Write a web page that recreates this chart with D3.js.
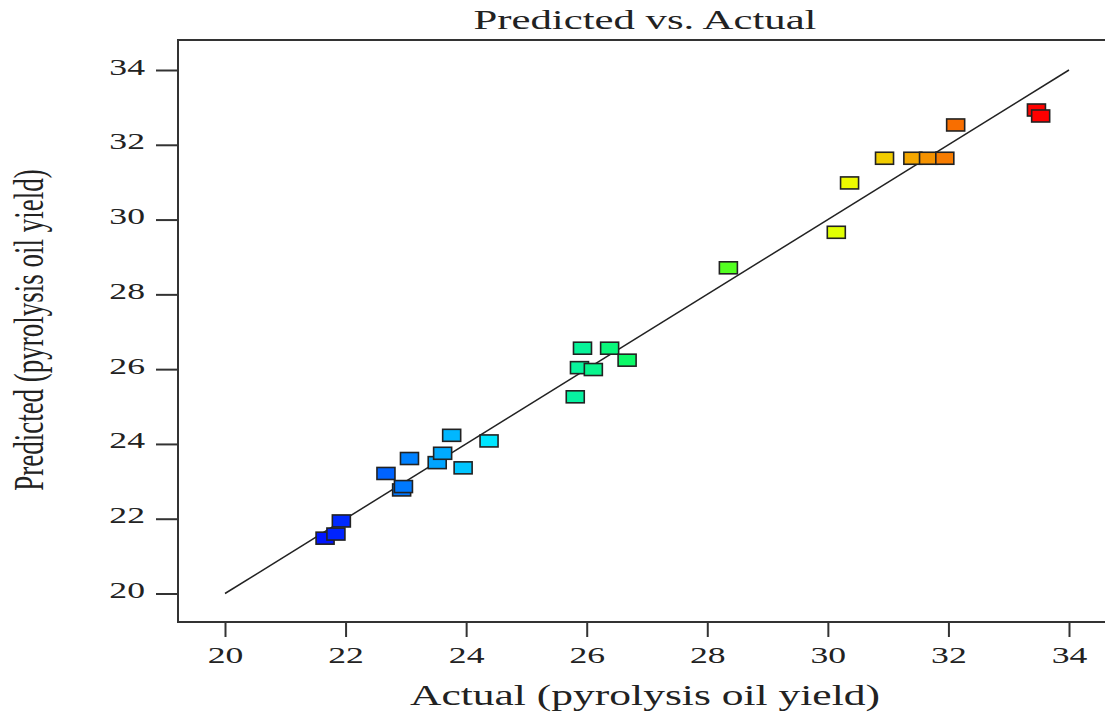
<!DOCTYPE html>
<html>
<head>
<meta charset="utf-8">
<script src="https://cdn.jsdelivr.net/npm/d3@7"></script>
<style>
  body { margin: 0; background: #fff; }
  text { font-family: "Liberation Serif", "Times New Roman", serif; fill: #222; }
</style>
</head>
<body>
<div class="viz"></div>
<script>
// data (actual, predicted)
var actual    = [21.66, 21.84, 21.93, 22.93, 22.96, 22.67, 23.06, 23.52, 23.61, 23.76, 23.95, 24.38,
                 25.93, 26.38, 26.67, 25.88, 26.11, 25.81,
                 28.35, 30.14, 30.36, 30.94, 31.41, 31.67, 31.94, 32.12, 33.46, 33.53];
var predicted = [21.48, 21.59, 21.94, 22.77, 22.86, 23.21, 23.61, 23.50, 23.75, 24.23, 23.36, 24.08,
                 26.56, 26.56, 26.24, 26.04, 25.99, 25.26,
                 28.71, 29.66, 30.98, 31.64, 31.64, 31.64, 31.64, 32.53, 32.93, 32.77];
var ticks = [20, 22, 24, 26, 28, 30, 32, 34];
var fitLine = [20, 34];

var W = 1105, H = 713;
var frameLeft = 178, frameTop = 40, frameBottom = 622;

var svg = d3.select('.viz').append('svg')
  .attr('width', W)
  .attr('height', H);

// scales
var x = d3.scaleLinear().domain([20, 34]).range([225, 1069]);
var y = d3.scaleLinear().domain([20, 34]).range([593.5, 70]);

// colour by actual value, blue -> red like the original
var color = d3.scaleLinear()
  .domain([21.6, 24.4, 27.5, 30.3, 33.5])
  .range(['#0010ff', '#00e8ff', '#10ff30', '#eeff00', '#ff0000']);

// axes
var sx = 1.55; // the picture text is stretched horizontally

var xAxis = svg.append('g')
  .attr('transform', 'translate(0,' + frameBottom + ')')
  .call(d3.axisBottom(x).tickValues(ticks).tickSize(15).tickSizeOuter(0).tickFormat(d3.format('d')));
xAxis.select('.domain').remove();
xAxis.selectAll('.tick line').attr('stroke', '#333').attr('stroke-width', 2);
xAxis.selectAll('.tick text')
  .attr('y', 41).attr('dy', 0)
  .attr('transform', 'scale(' + sx + ',1)')
  .attr('x', 0)
  .style('font-size', '23px')
  .style('font-family', '"Liberation Serif", serif')
  .attr('fill', '#222');

var yAxis = svg.append('g')
  .attr('transform', 'translate(' + frameLeft + ',0)')
  .call(d3.axisLeft(y).tickValues(ticks).tickSize(22).tickSizeOuter(0).tickFormat(d3.format('d')));
yAxis.select('.domain').remove();
yAxis.selectAll('.tick line').attr('stroke', '#333').attr('stroke-width', 2);
yAxis.selectAll('.tick text')
  .attr('x', -33 / sx).attr('dy', 0).attr('y', 4)
  .attr('transform', 'scale(' + sx + ',1)')
  .style('font-size', '23px')
  .style('font-family', '"Liberation Serif", serif')
  .attr('fill', '#222');

// frame (left, top, bottom; the right side runs off the picture)
svg.append('path')
  .attr('d', 'M' + W + ',' + frameTop + 'H' + frameLeft + 'V' + frameBottom + 'H' + W)
  .attr('fill', 'none')
  .attr('stroke', '#333')
  .attr('stroke-width', 2);

// y = x line
svg.append('line')
  .attr('x1', x(fitLine[0])).attr('y1', y(fitLine[0]))
  .attr('x2', x(fitLine[1])).attr('y2', y(fitLine[1]))
  .attr('stroke', '#222')
  .attr('stroke-width', 1.5);

// points
var pts = actual.map(function(d, i) { return {a: d, p: predicted[i]}; });
svg.selectAll('.point')
  .data(pts)
  .enter().append('rect')
  .attr('class', 'point')
  .attr('x', function(d) { return x(d.a) - 9; })
  .attr('y', function(d) { return y(d.p) - 6; })
  .attr('width', 18)
  .attr('height', 12)
  .attr('fill', function(d) { return color(d.a); })
  .attr('stroke', '#222')
  .attr('stroke-width', 1.6);

// labels
svg.append('text')
  .attr('x', 645).attr('y', 29)
  .attr('text-anchor', 'middle')
  .attr('textLength', 343)
  .attr('lengthAdjust', 'spacingAndGlyphs')
  .style('font-size', '28px')
  .text('Predicted vs. Actual');

svg.append('text')
  .attr('x', 645).attr('y', 705)
  .attr('text-anchor', 'middle')
  .attr('textLength', 470)
  .attr('lengthAdjust', 'spacingAndGlyphs')
  .style('font-size', '30px')
  .text('Actual (pyrolysis oil yield)');

svg.append('text')
  .attr('transform', 'translate(43,330) scale(1.6,1) rotate(-90)')
  .attr('text-anchor', 'middle')
  .style('font-size', '27px')
  .text('Predicted (pyrolysis oil yield)');
</script>
</body>
</html>
